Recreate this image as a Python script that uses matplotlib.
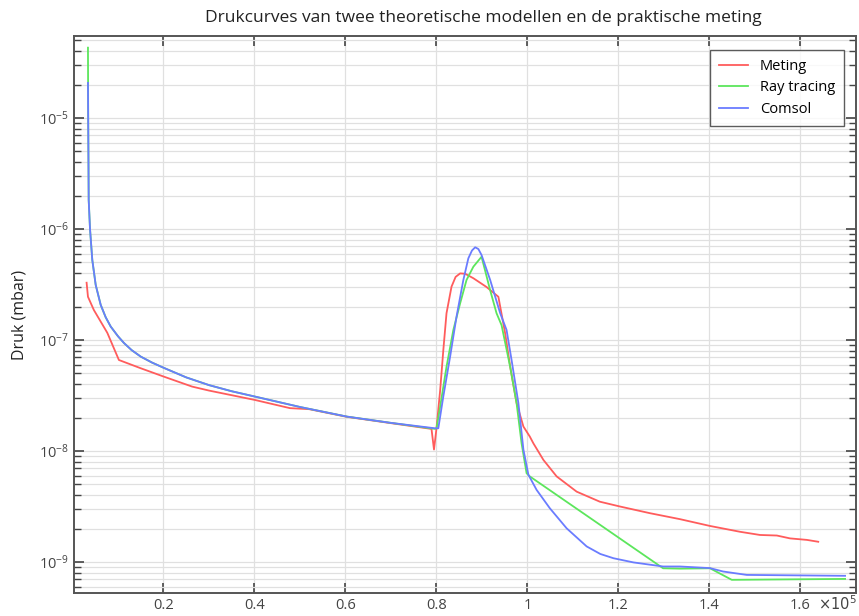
import matplotlib
matplotlib.use('Agg')
import matplotlib.pyplot as plt
from matplotlib.ticker import FixedLocator, FuncFormatter, LogLocator, NullFormatter

plt.rcParams['font.family'] = ['Open Sans', 'DejaVu Sans']

# x in units of 1e5, pressure in mbar
x_meting = [0.031, 0.034, 0.047, 0.0765, 0.102, 0.15, 0.201, 0.263, 0.3, 0.401, 0.478,
            0.52, 0.603, 0.7, 0.789, 0.7945, 0.80, 0.808, 0.815, 0.822, 0.833, 0.842, 0.852,
            0.863, 0.881, 0.910, 0.936, 0.94, 0.951, 0.962, 0.976, 0.991, 1.005, 1.013,
            1.035, 1.064, 1.108, 1.159, 1.203, 1.269, 1.335, 1.401, 1.467, 1.511, 1.548,
            1.577, 1.614, 1.639]
y_meting = [3.28e-7, 2.45e-7, 1.86e-7, 1.16e-7, 6.6e-8, 5.56e-8, 4.67e-8, 3.8e-8, 3.5e-8,
            2.88e-8, 2.43e-8, 2.38e-8, 2.03e-8, 1.78e-8, 1.58e-8, 1.03e-8, 1.6e-8, 3.5e-8,
            8.1e-8, 1.74e-7, 3.02e-7, 3.7e-7, 3.98e-7, 3.95e-7, 3.6e-7, 3.0e-7, 2.45e-7,
            2.0e-7, 1.14e-7, 5.73e-8, 2.7e-8, 1.66e-8, 1.35e-8, 1.17e-8, 8.3e-9, 5.9e-9,
            4.3e-9, 3.49e-9, 3.16e-9, 2.75e-9, 2.43e-9, 2.11e-9, 1.87e-9, 1.75e-9, 1.73e-9,
            1.63e-9, 1.58e-9, 1.52e-9]

x_ray = [0.034, 0.0345, 0.0352, 0.0356, 0.0385, 0.0435, 0.051, 0.062, 0.073, 0.084, 0.1,
         0.113, 0.13, 0.15, 0.175, 0.201, 0.25, 0.3, 0.35, 0.401, 0.5, 0.603, 0.7, 0.797,
         0.80, 0.808, 0.822, 0.837, 0.852, 0.866, 0.881, 0.899, 0.918, 0.932, 0.943, 0.962,
         0.976, 0.987, 0.998, 1.005, 1.298, 1.335, 1.401, 1.449, 1.698]
y_ray = [4.3e-5, 1.0e-5, 3.5e-6, 1.82e-6, 1.0e-6, 5.26e-7, 3.13e-7, 2.07e-7, 1.6e-7, 1.32e-7,
         1.08e-7, 9.4e-8, 8.1e-8, 7.08e-8, 6.25e-8, 5.6e-8, 4.6e-8, 3.92e-8, 3.45e-8, 3.09e-8,
         2.49e-8, 2.04e-8, 1.79e-8, 1.58e-8, 1.6e-8, 2.5e-8, 5.73e-8, 1.23e-7, 2.14e-7,
         3.47e-7, 4.57e-7, 5.62e-7, 2.8e-7, 1.74e-7, 1.36e-7, 5.7e-8, 2.7e-8, 1.17e-8,
         6.3e-9, 5.9e-9, 8.77e-10, 8.7e-10, 8.77e-10, 6.9e-10, 7.03e-10]

x_comsol = [0.034, 0.0345, 0.0352, 0.0356, 0.0385, 0.0435, 0.051, 0.062, 0.073, 0.084, 0.1,
            0.113, 0.13, 0.15, 0.175, 0.201, 0.25, 0.3, 0.35, 0.401, 0.5, 0.603, 0.7, 0.797,
            0.804, 0.815, 0.830, 0.844, 0.859, 0.870, 0.878, 0.885, 0.892, 0.899, 0.918,
            0.94, 0.954, 0.965, 0.980, 0.991, 1.002, 1.020, 1.049, 1.086, 1.130, 1.160,
            1.189, 1.233, 1.298, 1.335, 1.401, 1.43, 1.482, 1.698]
y_comsol = [2.07e-5, 1.0e-5, 3.5e-6, 1.82e-6, 1.0e-6, 5.26e-7, 3.13e-7, 2.07e-7, 1.6e-7,
            1.32e-7, 1.08e-7, 9.4e-8, 8.1e-8, 7.08e-8, 6.25e-8, 5.6e-8, 4.6e-8, 3.92e-8,
            3.45e-8, 3.09e-8, 2.49e-8, 2.04e-8, 1.79e-8, 1.6e-8, 1.6e-8, 3.1e-8, 7.1e-8,
            1.62e-7, 3.47e-7, 5.44e-7, 6.4e-7, 6.84e-7, 6.6e-7, 5.83e-7, 3.47e-7, 1.74e-7,
            1.23e-7, 6.6e-8, 2.7e-8, 1.03e-8, 6.1e-9, 4.46e-9, 3.05e-9, 2.01e-9, 1.38e-9,
            1.18e-9, 1.08e-9, 9.9e-10, 9.1e-10, 9.1e-10, 8.8e-10, 8.2e-10, 7.64e-10, 7.5e-10]

x_ticks = [0.2, 0.4, 0.6, 0.8, 1.0, 1.2, 1.4, 1.6]
y_ticks = [1e-9, 1e-8, 1e-7, 1e-6, 1e-5]
labels = ['Meting', 'Ray tracing', 'Comsol']

fig = plt.figure(figsize=(8.59, 6.16), dpi=100)
ax = fig.add_axes([74 / 859, 1 - 593 / 616, 782 / 859, 557 / 616])

ax.plot(x_meting, y_meting, color='#ff5c5c', lw=1.3, label=labels[0])
ax.plot(x_ray, y_ray, color='#5ce65c', lw=1.3, label=labels[1])
ax.plot(x_comsol, y_comsol, color='#6a7cff', lw=1.3, label=labels[2])

ax.set_yscale('log')
ax.set_xlim(0.0033, 1.722)
ax.set_ylim(5.25e-10, 5.48e-5)

ax.xaxis.set_major_locator(FixedLocator(x_ticks))
ax.xaxis.set_major_formatter(FuncFormatter(lambda v, p: '%g' % v))
ax.yaxis.set_major_locator(FixedLocator(y_ticks))
ax.yaxis.set_minor_locator(LogLocator(base=10, subs=range(2, 10), numticks=20))
ax.yaxis.set_minor_formatter(NullFormatter())

ax.grid(True, which='both', color='#e0e0e0', lw=0.9)
ax.set_axisbelow(True)
ax.tick_params(which='both', direction='in', top=True, right=True,
               color='#444444', labelcolor='#444444', labelsize=10.5)
ax.tick_params(which='major', length=7, width=1.2)
ax.tick_params(which='minor', length=5, width=1.0)
for s in ax.spines.values():
    s.set_color('#555555')
    s.set_linewidth(1.4)

ax.set_ylabel('Druk (mbar)', fontsize=11.5, color='#222222', labelpad=8)
fig.text(483 / 859, 1 - 18 / 616, 'Drukcurves van twee theoretische modellen en de praktische meting',
         ha='center', va='center', fontsize=12.5, color='#222222')
fig.text(857 / 859, 1 - 605 / 616, r'$\times10^{5}$', ha='right', va='center',
         fontsize=10.5, color='#444444')

leg = ax.legend(loc='upper right', bbox_to_anchor=(770 / 782, 543 / 557), borderaxespad=0,
                fontsize=10.5, frameon=True, fancybox=False, edgecolor='#333333',
                handlelength=2.0, labelspacing=0.45, borderpad=0.6)
leg.get_frame().set_linewidth(1.0)

fig.savefig('out.png', dpi=100)
